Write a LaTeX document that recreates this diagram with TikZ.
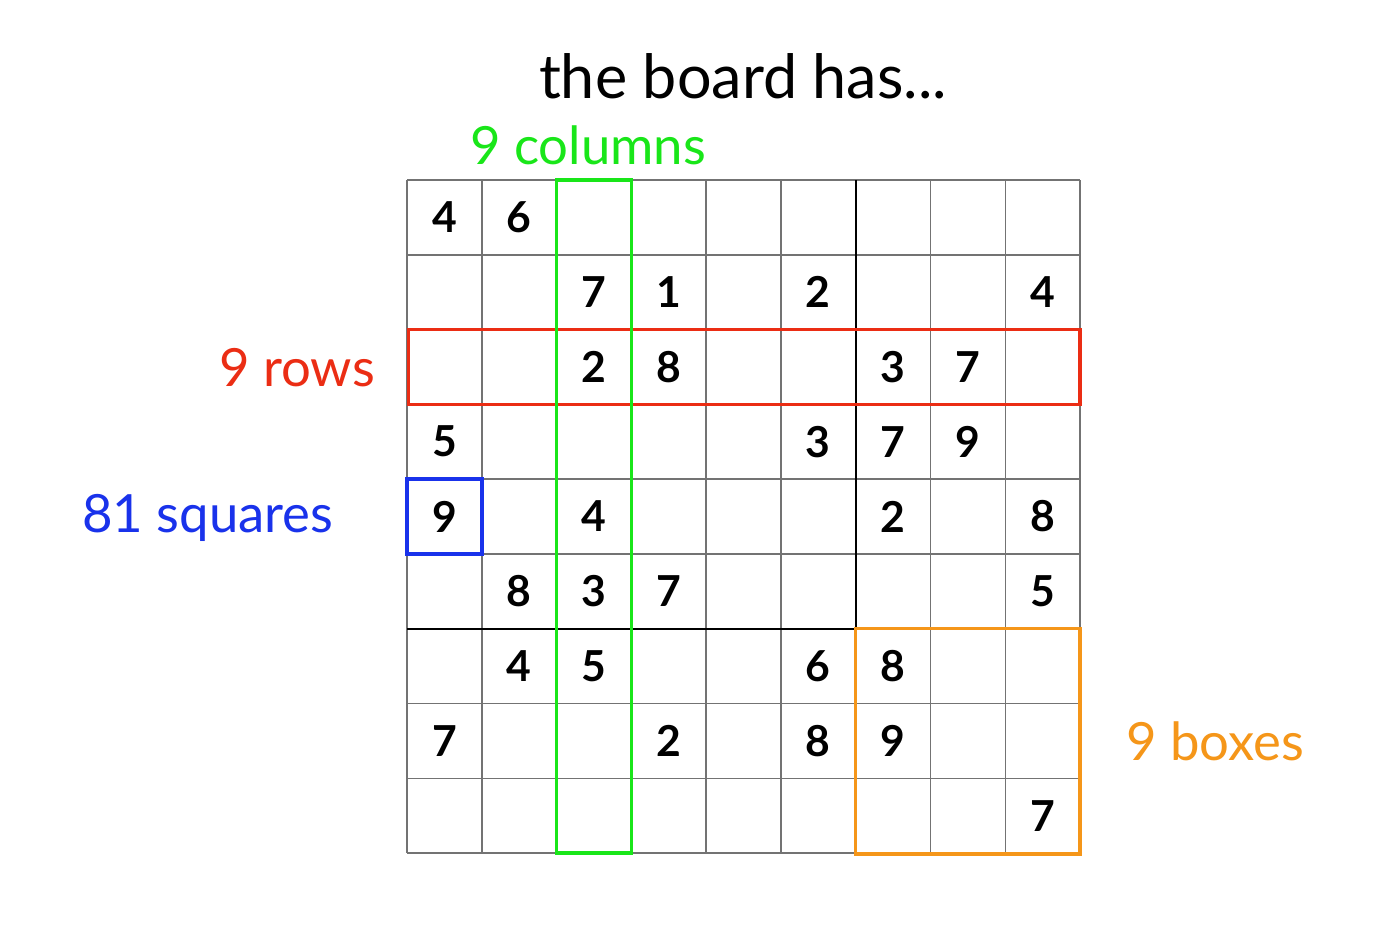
\documentclass[tikz,border=0pt]{standalone}
\usepackage{fontspec}
\setmainfont{Lato}
\definecolor{cgreen}{RGB}{25,230,25}
\definecolor{cred}{RGB}{235,45,20}
\definecolor{cblue}{RGB}{25,50,235}
\definecolor{corange}{RGB}{245,150,25}
\definecolor{cgrid}{RGB}{115,115,115}
\begin{document}
\begin{tikzpicture}[x=0.75pt,y=-0.75pt,
  gridline/.style={draw=cgrid,line width=1.1pt},
  boxline/.style={draw=black,line width=1.5pt},
  hilite/.style={line width=2.6pt},
  digit/.style={font=\fontsize{32}{32}\selectfont\bfseries,inner sep=0pt},
  label/.style={font=\fontsize{39.5}{39.5}\selectfont,inner sep=0pt},
  title/.style={font=\fontsize{45.8}{45.8}\selectfont,inner sep=0pt}]
\useasboundingbox[fill=white] (0,0) rectangle (1385,940);
\def\X{407}\def\Y{180}\def\C{74.78}
\foreach \i in {0,...,9}{
  \draw[gridline] ({\X+\i*\C},\Y) -- ({\X+\i*\C},{\Y+9*\C});
  \draw[gridline] (\X,{\Y+\i*\C}) -- ({\X+9*\C},{\Y+\i*\C});
}
\foreach \i in {3,6}{
  \draw[boxline] ({\X+\i*\C},\Y) -- ({\X+\i*\C},{\Y+9*\C});
  \draw[boxline] (\X,{\Y+\i*\C}) -- ({\X+9*\C},{\Y+\i*\C});
}
\foreach \r/\c/\d in {1/1/4,1/2/6,2/3/7,2/4/1,2/6/2,2/9/4,3/3/2,3/4/8,3/7/3,3/8/7,
  4/1/5,4/6/3,4/7/7,4/8/9,5/1/9,5/3/4,5/7/2,5/9/8,6/2/8,6/3/3,6/4/7,6/9/5,
  7/2/4,7/3/5,7/6/6,7/7/8,8/1/7,8/4/2,8/6/8,8/7/9,9/9/7}{
  \node[digit] (d\r\c) at ({\X+(\c-0.5)*\C},{\Y+(\r-0.5)*\C}) {\d};
}
% highlights
\draw[hilite,cred] ({\X+0.02*\C},{\Y+2*\C}) rectangle ({\X+9*\C},{\Y+3*\C});
\draw[hilite,cgreen] ({\X+2*\C},\Y) rectangle ({\X+3*\C},{\Y+9*\C});
\draw[hilite,cblue] (\X,{\Y+4*\C}) rectangle ({\X+\C},{\Y+5*\C});
\draw[hilite,corange] ({\X+6*\C},{\Y+6*\C}) rectangle ({\X+9*\C},{\Y+9*\C+1});
% labels
\node[title,anchor=base] (ttl) at (743,98) {the board has...};
\node[label,anchor=base,text=cgreen] (lcol) at (588,164) {9 columns};
\node[label,anchor=base east,text=cred] (lrow) at (375,386) {9 rows};
\node[label,anchor=base west,text=cblue] (lsq) at (82,532) {81 squares};
\node[label,anchor=base west,text=corange] (lbox) at (1126,760) {9 boxes};
\end{tikzpicture}
\end{document}
